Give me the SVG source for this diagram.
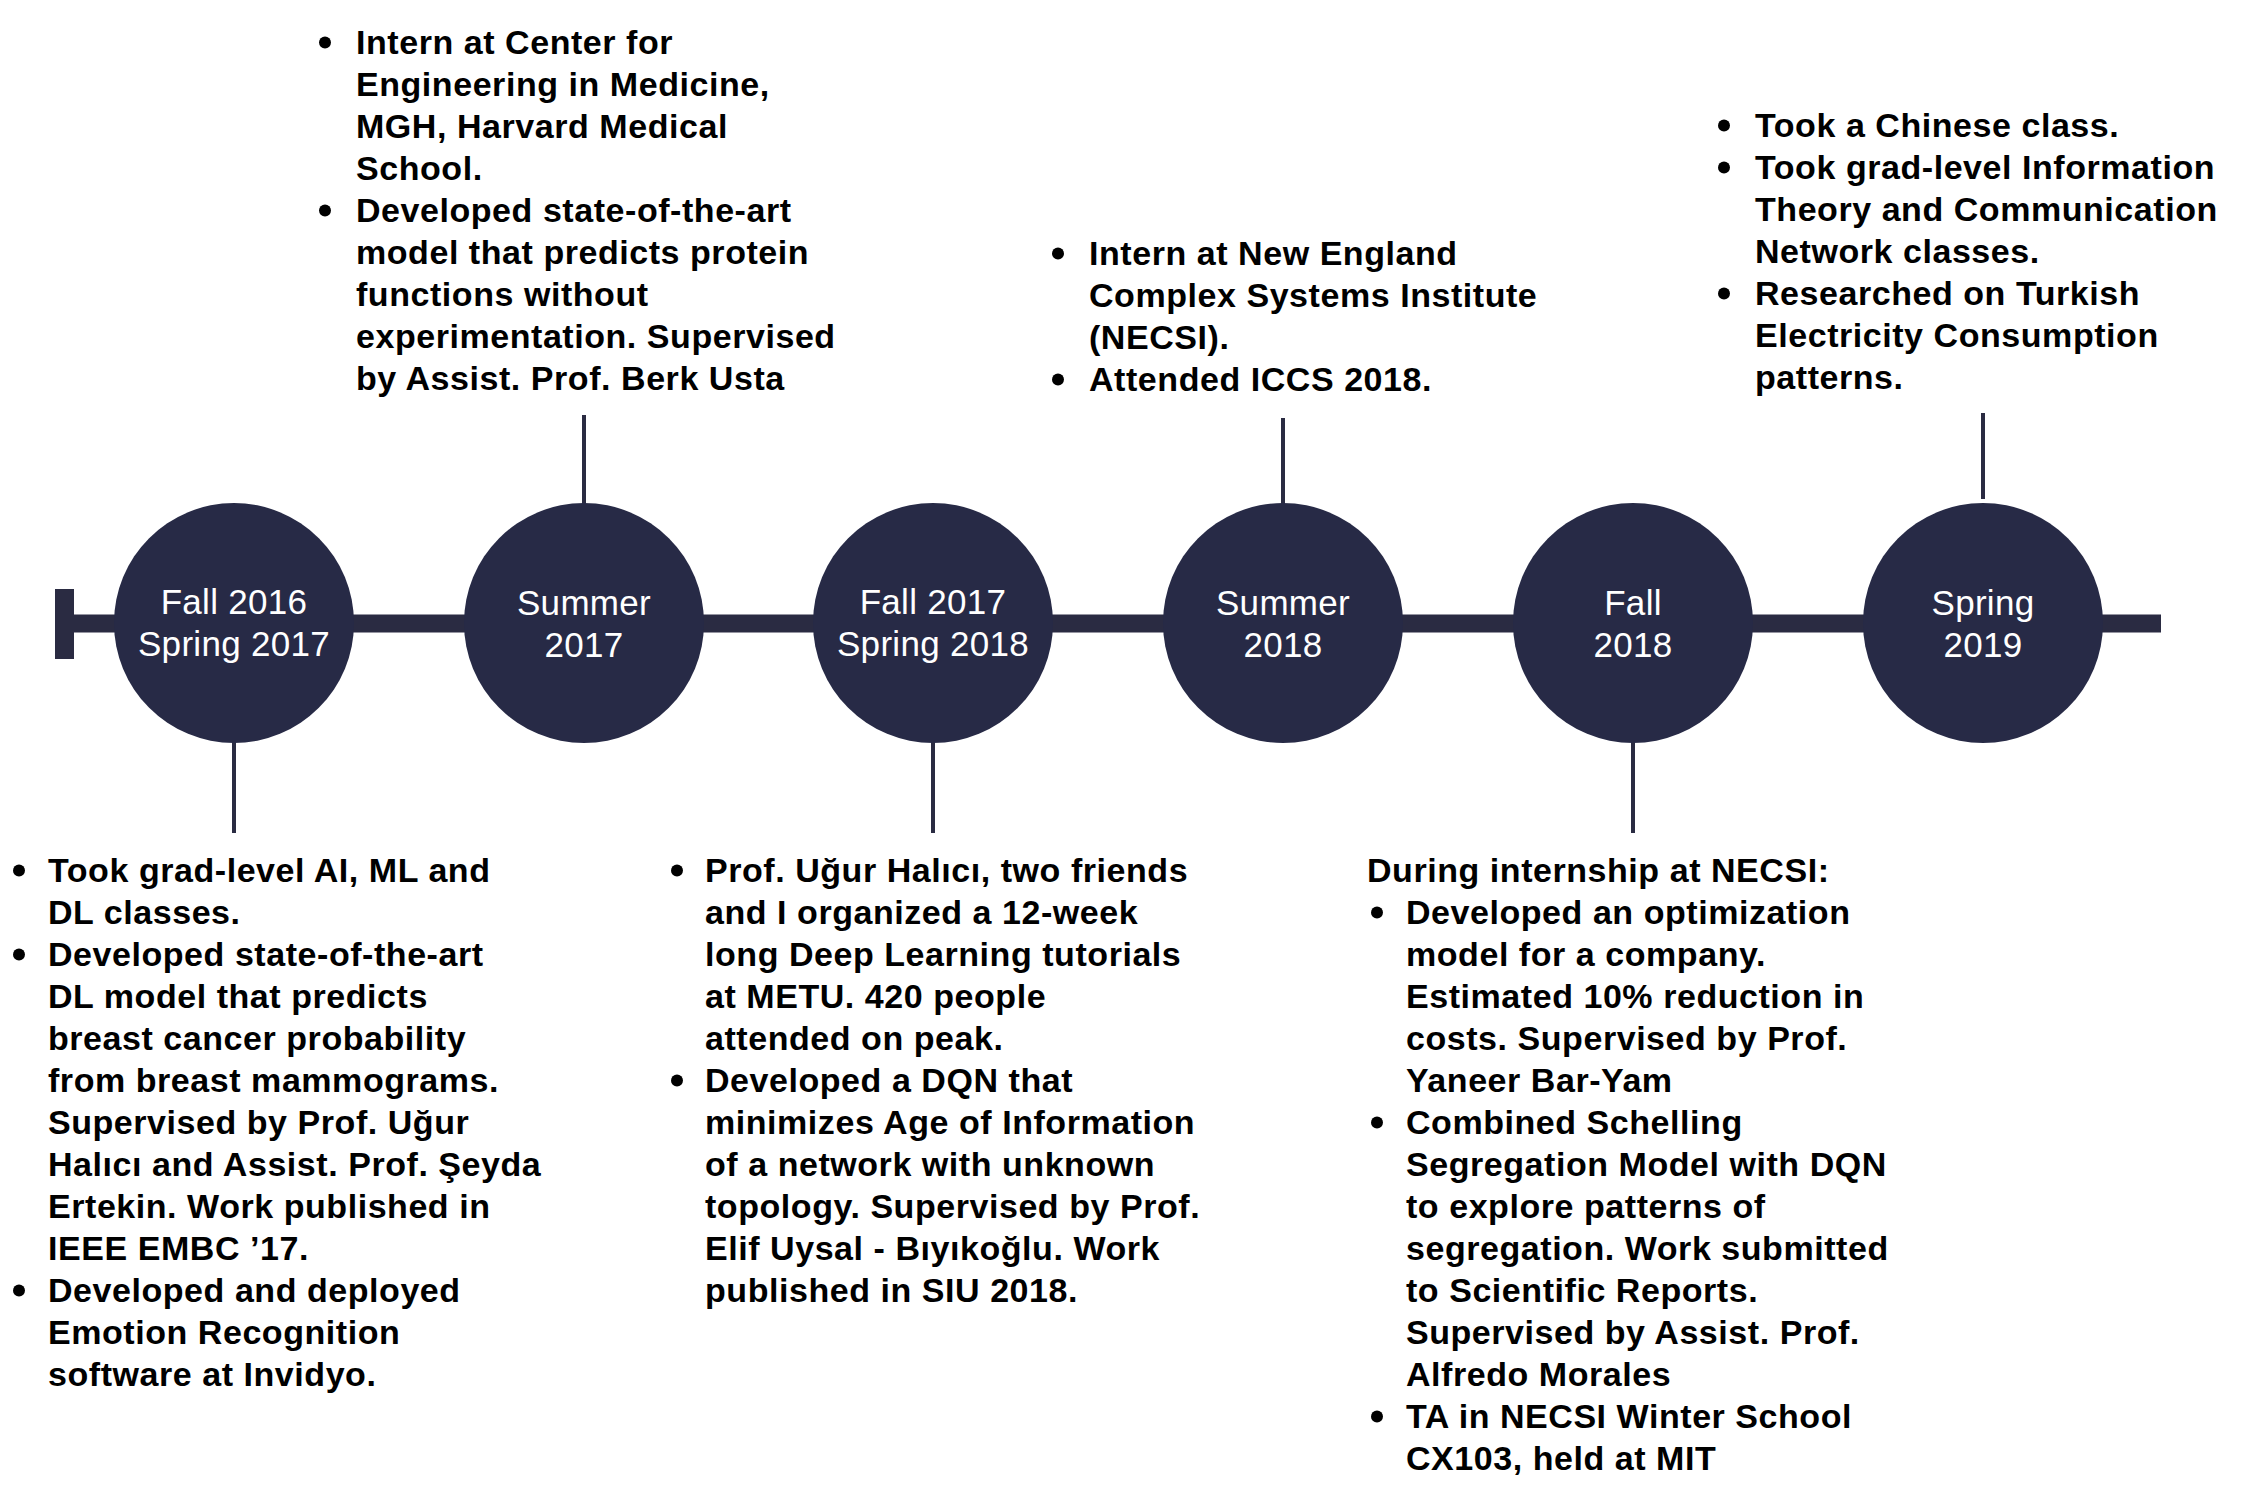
<svg xmlns="http://www.w3.org/2000/svg" width="2250" height="1488" viewBox="0 0 2250 1488">
<style>
.c{fill:#272a46}
.bar{fill:#2a2b42}
.ln{stroke:#2a2b42;stroke-width:4;fill:none}
.lbl{font-family:"Liberation Sans",Arial,sans-serif;font-size:35px;fill:#fff;text-anchor:middle;letter-spacing:0.3px}
.t{font-family:"Liberation Sans",Arial,sans-serif;font-size:34px;font-weight:bold;fill:#000;letter-spacing:0.55px}
.b{fill:#000}
</style>
<rect width="2250" height="1488" fill="#fff"/>
<g id="connectors">
<rect class="bar" x="55" y="589" width="19" height="70"/>
<rect class="bar" x="74" y="614.5" width="2087" height="18"/>
<line class="ln" x1="584" y1="415" x2="584" y2="505"/>
<line class="ln" x1="1283" y1="418" x2="1283" y2="505"/>
<line class="ln" x1="1983" y1="413" x2="1983" y2="499"/>
<line class="ln" x1="234" y1="741" x2="234" y2="833"/>
<line class="ln" x1="933" y1="741" x2="933" y2="833"/>
<line class="ln" x1="1633" y1="741" x2="1633" y2="833"/>
</g>
<g id="node-fall2016">
<circle class="c" cx="234" cy="623" r="120"/>
<text class="lbl"><tspan x="234" y="614">Fall 2016</tspan><tspan x="234" y="656">Spring 2017</tspan></text>
<circle class="b" cx="19" cy="870.5" r="6"/>
<circle class="b" cx="19" cy="954.5" r="6"/>
<circle class="b" cx="19" cy="1290.5" r="6"/>
<text class="t">
<tspan x="48" y="882">Took grad-level AI, ML and</tspan>
<tspan x="48" y="924">DL classes.</tspan>
<tspan x="48" y="966">Developed state-of-the-art</tspan>
<tspan x="48" y="1008">DL model that predicts</tspan>
<tspan x="48" y="1050">breast cancer probability</tspan>
<tspan x="48" y="1092">from breast mammograms.</tspan>
<tspan x="48" y="1134">Supervised by Prof. Uğur</tspan>
<tspan x="48" y="1176">Halıcı and Assist. Prof. Şeyda</tspan>
<tspan x="48" y="1218">Ertekin. Work published in</tspan>
<tspan x="48" y="1260">IEEE EMBC ’17.</tspan>
<tspan x="48" y="1302">Developed and deployed</tspan>
<tspan x="48" y="1344">Emotion Recognition</tspan>
<tspan x="48" y="1386">software at Invidyo.</tspan>
</text>
</g>
<g id="node-summer2017">
<circle class="c" cx="584" cy="623" r="120"/>
<text class="lbl"><tspan x="584" y="615">Summer</tspan><tspan x="584" y="657">2017</tspan></text>
<circle class="b" cx="325" cy="42.5" r="6"/>
<circle class="b" cx="325" cy="210.5" r="6"/>
<text class="t">
<tspan x="356" y="54">Intern at Center for</tspan>
<tspan x="356" y="96">Engineering in Medicine,</tspan>
<tspan x="356" y="138">MGH, Harvard Medical</tspan>
<tspan x="356" y="180">School.</tspan>
<tspan x="356" y="222">Developed state-of-the-art</tspan>
<tspan x="356" y="264">model that predicts protein</tspan>
<tspan x="356" y="306">functions without</tspan>
<tspan x="356" y="348">experimentation. Supervised</tspan>
<tspan x="356" y="390">by Assist. Prof. Berk Usta</tspan>
</text>
</g>
<g id="node-fall2017">
<circle class="c" cx="933" cy="623" r="120"/>
<text class="lbl"><tspan x="933" y="614">Fall 2017</tspan><tspan x="933" y="656">Spring 2018</tspan></text>
<circle class="b" cx="677" cy="870.5" r="6"/>
<circle class="b" cx="677" cy="1080.5" r="6"/>
<text class="t">
<tspan x="705" y="882">Prof. Uğur Halıcı, two friends</tspan>
<tspan x="705" y="924">and I organized a 12-week</tspan>
<tspan x="705" y="966">long Deep Learning tutorials</tspan>
<tspan x="705" y="1008">at METU. 420 people</tspan>
<tspan x="705" y="1050">attended on peak.</tspan>
<tspan x="705" y="1092">Developed a DQN that</tspan>
<tspan x="705" y="1134">minimizes Age of Information</tspan>
<tspan x="705" y="1176">of a network with unknown</tspan>
<tspan x="705" y="1218">topology. Supervised by Prof.</tspan>
<tspan x="705" y="1260">Elif Uysal - Bıyıkoğlu. Work</tspan>
<tspan x="705" y="1302">published in SIU 2018.</tspan>
</text>
</g>
<g id="node-summer2018">
<circle class="c" cx="1283" cy="623" r="120"/>
<text class="lbl"><tspan x="1283" y="615">Summer</tspan><tspan x="1283" y="657">2018</tspan></text>
<circle class="b" cx="1058" cy="253.5" r="6"/>
<circle class="b" cx="1058" cy="379.5" r="6"/>
<text class="t">
<tspan x="1089" y="265">Intern at New England</tspan>
<tspan x="1089" y="307">Complex Systems Institute</tspan>
<tspan x="1089" y="349">(NECSI).</tspan>
<tspan x="1089" y="391">Attended ICCS 2018.</tspan>
</text>
</g>
<g id="node-fall2018">
<circle class="c" cx="1633" cy="623" r="120"/>
<text class="lbl"><tspan x="1633" y="615">Fall</tspan><tspan x="1633" y="657">2018</tspan></text>
<circle class="b" cx="1377" cy="912.5" r="6"/>
<circle class="b" cx="1377" cy="1122.5" r="6"/>
<circle class="b" cx="1377" cy="1416.5" r="6"/>
<text class="t">
<tspan x="1367" y="882">During internship at NECSI:</tspan>
<tspan x="1406" y="924">Developed an optimization</tspan>
<tspan x="1406" y="966">model for a company.</tspan>
<tspan x="1406" y="1008">Estimated 10% reduction in</tspan>
<tspan x="1406" y="1050">costs. Supervised by Prof.</tspan>
<tspan x="1406" y="1092">Yaneer Bar-Yam</tspan>
<tspan x="1406" y="1134">Combined Schelling</tspan>
<tspan x="1406" y="1176">Segregation Model with DQN</tspan>
<tspan x="1406" y="1218">to explore patterns of</tspan>
<tspan x="1406" y="1260">segregation. Work submitted</tspan>
<tspan x="1406" y="1302">to Scientific Reports.</tspan>
<tspan x="1406" y="1344">Supervised by Assist. Prof.</tspan>
<tspan x="1406" y="1386">Alfredo Morales</tspan>
<tspan x="1406" y="1428">TA in NECSI Winter School</tspan>
<tspan x="1406" y="1470">CX103, held at MIT</tspan>
</text>
</g>
<g id="node-spring2019">
<circle class="c" cx="1983" cy="623" r="120"/>
<text class="lbl"><tspan x="1983" y="615">Spring</tspan><tspan x="1983" y="657">2019</tspan></text>
<circle class="b" cx="1724" cy="125.5" r="6"/>
<circle class="b" cx="1724" cy="167.5" r="6"/>
<circle class="b" cx="1724" cy="293.5" r="6"/>
<text class="t">
<tspan x="1755" y="137">Took a Chinese class.</tspan>
<tspan x="1755" y="179">Took grad-level Information</tspan>
<tspan x="1755" y="221">Theory and Communication</tspan>
<tspan x="1755" y="263">Network classes.</tspan>
<tspan x="1755" y="305">Researched on Turkish</tspan>
<tspan x="1755" y="347">Electricity Consumption</tspan>
<tspan x="1755" y="389">patterns.</tspan>
</text>
</g>
</svg>
